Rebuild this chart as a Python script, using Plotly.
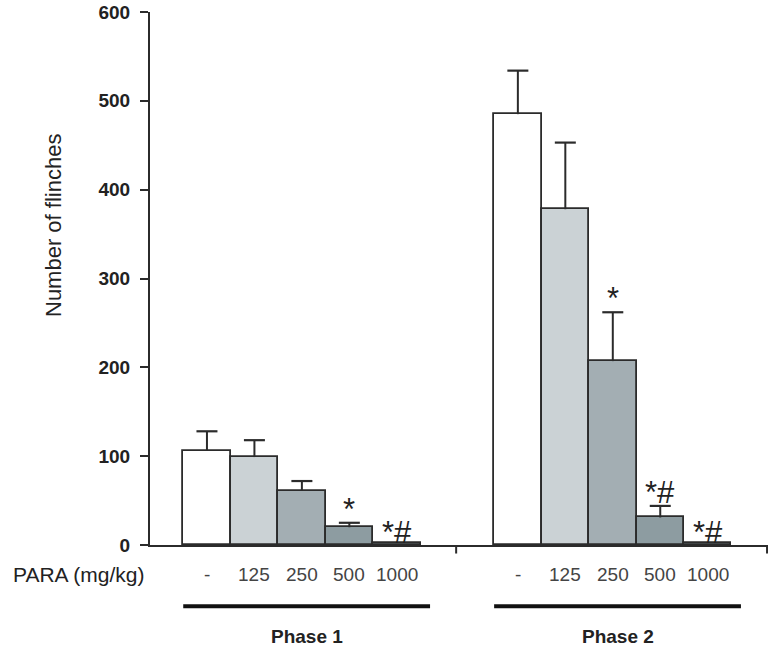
import plotly.graph_objects as go

# ---- data ----
doses = ["-", "125", "250", "500", "1000"]
phases = ["Phase 1", "Phase 2"]
phase1_mean = [106, 99, 61, 20, 2]
phase1_sem = [22, 19, 11, 5, 0]
phase2_mean = [485, 378, 207, 31, 2]
phase2_sem = [49, 75, 55, 13, 0]
phase1_marks = ["", "", "", "*", "*#"]
phase2_marks = ["", "", "*", "*#", "*#"]
y_ticks = [0, 100, 200, 300, 400, 500, 600]

# ---- style ----
bar_colors = ["#ffffff", "#cbd2d5", "#a3aeb3", "#8d9ca1", "#7d8c92"]
edge = "#2b2b2b"
txt = "#222222"
group_offset = [0, 6.55]
x_range = [-1.2, 11.82]
narrow = "Liberation Sans Narrow, Arial Narrow, Liberation Sans"

W, H = 771, 654
plot_l, plot_r, plot_t, plot_b = 150, 768, 12, 545

fig = go.Figure()
annotations = []
shapes = []
all_x, all_text = [], []

for gi, (means, sems, marks) in enumerate(
        [(phase1_mean, phase1_sem, phase1_marks), (phase2_mean, phase2_sem, phase2_marks)]):
    xs = [i + group_offset[gi] for i in range(len(doses))]
    all_x += xs
    all_text += doses
    # error stems (upper only) and caps
    sx, sy, cx, cy = [], [], [], []
    for x, m, s in zip(xs, means, sems):
        if s > 0:
            sx += [x, x, None]
            sy += [m, m + s, None]
            cx.append(x)
            cy.append(m + s)
    fig.add_trace(go.Scatter(x=sx, y=sy, mode="lines", line=dict(color=edge, width=2),
                             showlegend=False, hoverinfo="skip"))
    fig.add_trace(go.Scatter(x=cx, y=cy, mode="markers",
                             marker=dict(symbol="line-ew", size=15, line=dict(color=edge, width=2.2)),
                             showlegend=False, hoverinfo="skip"))
    fig.add_trace(go.Bar(
        x=xs, y=means, width=1,
        marker=dict(color=bar_colors, line=dict(color=edge, width=1.8)),
        showlegend=False, hoverinfo="y",
    ))
    for x, m, s, mk in zip(xs, means, sems, marks):
        if mk:
            annotations.append(dict(x=x, y=m + s, xref="x", yref="y", text=mk, showarrow=False,
                                    yanchor="bottom", yshift=-9 if s == 0 else -6,
                                    font=dict(family="Liberation Sans, Arial", size=31, color=txt)))
    # phase underline and label
    shapes.append(dict(type="line", xref="x", yref="paper", x0=xs[0] - 0.5, x1=xs[-1] + 0.7,
                       y0=-0.115, y1=-0.115, line=dict(color="#111111", width=4)))
    annotations.append(dict(x=(xs[0] + xs[-1]) / 2 + 0.1, y=-0.172, xref="x", yref="paper",
                            text="<b>%s</b>" % phases[gi], showarrow=False, yanchor="middle",
                            font=dict(family=narrow, size=19, color=txt)))

# dose tick labels
for x, t in zip(all_x, all_text):
    annotations.append(dict(x=x, y=-0.056, xref="x", yref="paper", text=t, showarrow=False,
                            yanchor="middle",
                            font=dict(family=narrow, size=19, color="#444444")))

annotations.append(dict(x=0, y=-0.056, xref="paper", yref="paper", xanchor="right", xshift=-4,
                        text="PARA (mg/kg)", showarrow=False, yanchor="middle",
                        font=dict(family="Liberation Sans, Arial", size=21, color=txt)))

# y title, centred at page pixel (53, 226)
annotations.append(dict(x=(53 - plot_l) / (plot_r - plot_l), y=(plot_b - 226) / (plot_b - plot_t),
                        xref="paper", yref="paper", xanchor="center", yanchor="middle",
                        text="Number of flinches", textangle=-90, showarrow=False,
                        font=dict(family=narrow, size=22, color=txt)))

# axis ticks on x axis (between groups and at end)
for xv in [(4.5 + 6.0) / 2, x_range[1] - 0.02]:
    shapes.append(dict(type="line", xref="x", yref="paper", x0=xv, x1=xv, y0=0, y1=-0.016,
                       line=dict(color=edge, width=2)))

fig.update_layout(
    width=W, height=H,
    margin=dict(l=plot_l, r=W - plot_r, t=plot_t, b=H - plot_b, autoexpand=False),
    plot_bgcolor="white", paper_bgcolor="white",
    bargap=0,
    xaxis=dict(range=x_range, showgrid=False, zeroline=False, showline=True, linecolor=edge,
               linewidth=2, showticklabels=False, ticks="", automargin=False),
    yaxis=dict(range=[0, 600], tickvals=y_ticks, showgrid=False, zeroline=False, showline=True,
               linecolor=edge, linewidth=2, ticks="outside", ticklen=8, tickwidth=2, tickcolor=edge,
               ticklabelstandoff=6,
               tickfont=dict(family="Liberation Sans, Arial", size=19, color=txt, weight="bold"),
               automargin=False),
    annotations=annotations,
    shapes=shapes,
)

fig.write_html("out.html", config={"displayModeBar": False},
               post_script="document.body.style.margin='0';")
